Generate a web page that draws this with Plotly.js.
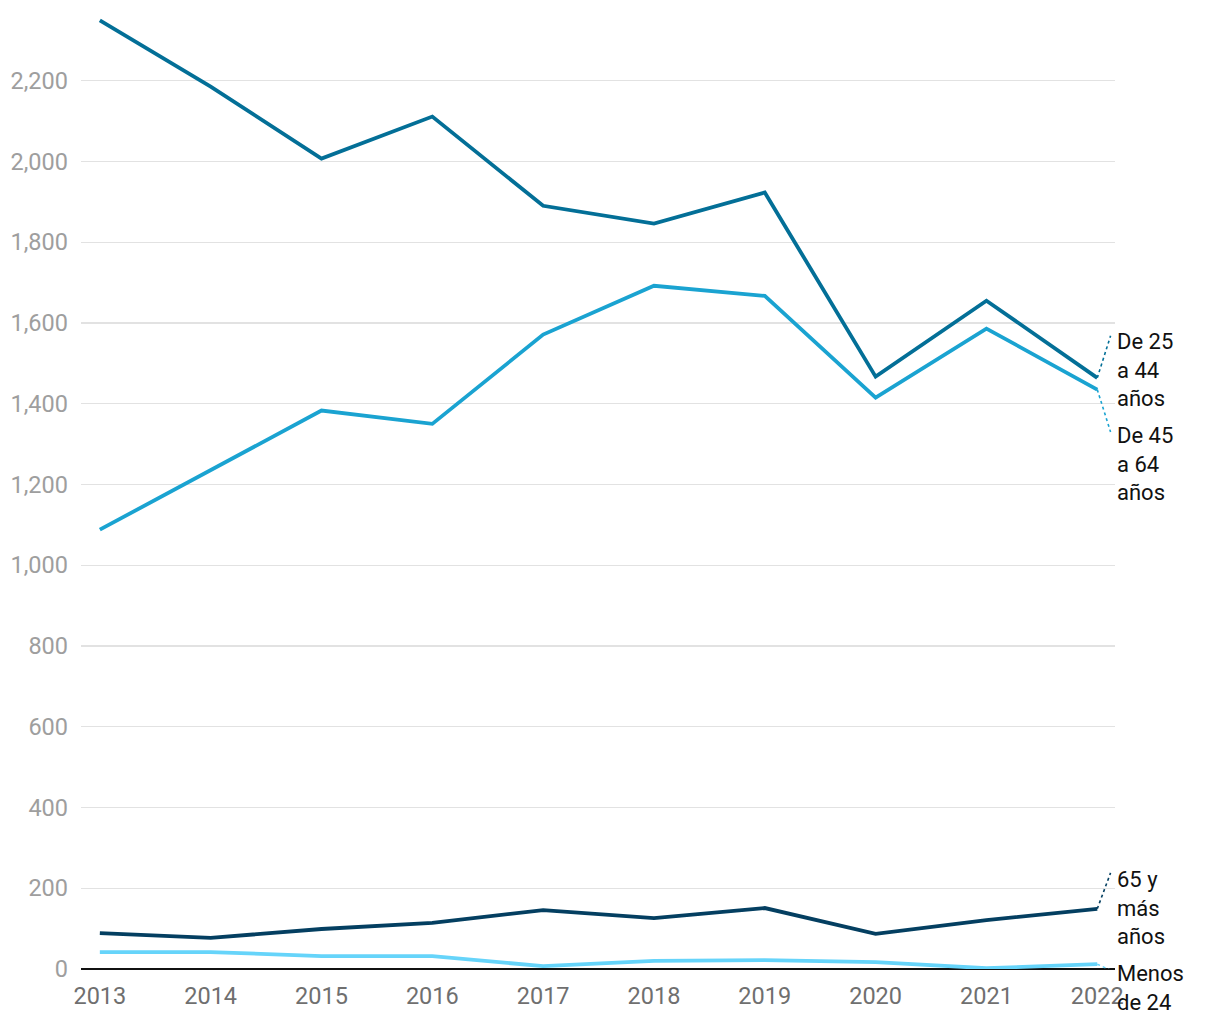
<!DOCTYPE html>
<html>
<head>
<meta charset="utf-8">
<script src="https://cdn.plot.ly/plotly-3.0.1.min.js"></script>
<style>html,body{margin:0;padding:0;background:#fff;}#chart{width:1220px;height:1020px;}</style>
</head>
<body>
<div id="chart"></div>
<script>
const years = [2013, 2014, 2015, 2016, 2017, 2018, 2019, 2020, 2021, 2022];
const de25a44 = [2349, 2185, 2007, 2111, 1890, 1846, 1923, 1467, 1655, 1464];
const de45a64 = [1088, 1236, 1383, 1350, 1571, 1692, 1667, 1415, 1586, 1435];
const mas65 = [89, 77, 99, 114, 146, 126, 151, 87, 121, 149];
const menos24 = [42, 42, 32, 32, 7, 20, 22, 17, 2, 12];
const yTicks = [0, 200, 400, 600, 800, 1000, 1200, 1400, 1600, 1800, 2000, 2200];

const seriesNames = ["De 25<br>a 44<br>años", "De 45<br>a 64<br>años", "65 y<br>más<br>años", "Menos<br>de 24"];
const seriesData = [de25a44, de45a64, mas65, menos24];
const seriesColors = ["#036f97", "#1aa3d1", "#043f61", "#66d4fa"];
const yMax = 2370;
// label centre positions and connector end points, in axis units
const labelY = [1484, 1251, 151, -47];
const connectorY = [1568, 1330, 238, -3];

const traces = seriesData.map((d, i) => ({
  x: years, y: d, type: "scatter", mode: "lines",
  line: {color: seriesColors[i], width: 3.8},
  hoverinfo: "skip", showlegend: false, cliponaxis: false
}));

const last = years[years.length - 1];
const shapes = seriesData.map((d, i) => ({
  type: "line", xref: "x", yref: "y",
  x0: last, y0: d[d.length - 1], x1: last + 0.12, y1: connectorY[i],
  line: {color: seriesColors[i], width: 1.6, dash: "dot"}
}));

const annotations = seriesData.map((d, i) => ({
  xref: "paper", yref: "paper", x: 1, y: labelY[i] / yMax, xanchor: "left", yanchor: "middle",
  xshift: 0, text: seriesNames[i], showarrow: false, align: "left",
  font: {family: "Roboto, sans-serif", size: 22, color: "#111"}
}));

const layout = {
  width: 1220, height: 1020,
  margin: {l: 81, r: 105, t: 12, b: 51},
  paper_bgcolor: "#fff", plot_bgcolor: "#fff",
  font: {family: "Roboto, sans-serif"},
  xaxis: {
    range: [2012.83, 2022.16], tickvals: years, ticktext: years.map(String),
    showgrid: false, zeroline: false, showline: false, ticks: "",
    ticklabelstandoff: 10,
    tickfont: {size: 23.5, color: "#6f6f6f"}, fixedrange: true
  },
  yaxis: {
    range: [0, yMax], tickvals: yTicks, tickformat: ",",
    showgrid: true, gridcolor: "#e2e2e2", gridwidth: 1.2,
    zeroline: true, zerolinecolor: "#111", zerolinewidth: 1.8,
    showline: false, ticks: "", ticklabelstandoff: 12,
    tickfont: {size: 23.5, color: "#9e9e9e"}, fixedrange: true
  },
  shapes: shapes,
  annotations: annotations
};

Plotly.newPlot("chart", traces, layout, {displayModeBar: false, staticPlot: true});
</script>
</body>
</html>
